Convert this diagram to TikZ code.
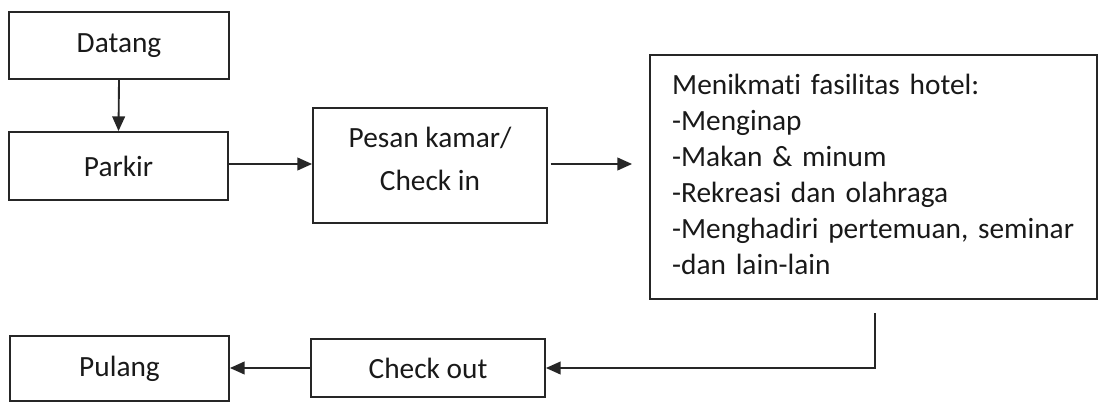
\documentclass[tikz,border=0pt]{standalone}
\usepackage{fontspec}
\setmainfont{Carlito}[Ligatures=NoCommon]
\usetikzlibrary{arrows.meta}
\begin{document}
\begin{tikzpicture}[x=0.75pt,y=-0.75pt,
  box/.style={draw=black!85, line width=1.4pt, text=black!90, font=\fontsize{22pt}{27pt}\selectfont, inner sep=0pt, align=center},
  conn/.style={draw=black!85, line width=1.4pt, -{Triangle[length=11pt,width=9.5pt]}},
  line/.style={draw=black!85, line width=1.4pt}]
\path[use as bounding box] (0,0) rectangle (1099,403);
\node[box, minimum width=165pt, minimum height=50.25pt] (datang) at (119,45.5) {Datang};
\node[box, minimum width=164.25pt, minimum height=51pt] (parkir) at (118.5,166) {Parkir};
\node[box, minimum width=175.5pt, minimum height=86.25pt, font=\fontsize{22pt}{32pt}\selectfont] (pesan) at (430,165.5) {Pesan kamar/\\Check in\rule[-10.5pt]{0pt}{10.5pt}};
\node[box, minimum width=335.25pt, minimum height=183pt, text width=302pt, align=left, inner xsep=16.5pt] (menik) at (873.5,177) {Menikmati fasilitas hotel:\\-Menginap\\-Makan \& minum\\-Rekreasi dan olahraga\\-Menghadiri pertemuan, seminar\\-dan lain-lain\rule[-4.5pt]{0pt}{4.5pt}};
\node[box, minimum width=175.5pt, minimum height=43.5pt] (checkout) at (428,368) {Check out};
\node[box, minimum width=164.25pt, minimum height=48.75pt] (pulang) at (119.5,368.5) {Pulang};
\coordinate (fb) at (875,313);
\draw[conn] (datang.south) -- (parkir.north);
\draw[conn] (parkir.east |- 0,164) -- (pesan.west |- 0,164);
\draw[conn, shorten <=2pt, shorten >=12.75pt] (pesan.east |- 0,164) -- (menik.west |- 0,164);
\draw[conn] (fb) |- (checkout.east);
\draw[conn] (checkout.west) -- (pulang.east |- checkout.west);
\end{tikzpicture}
\end{document}
